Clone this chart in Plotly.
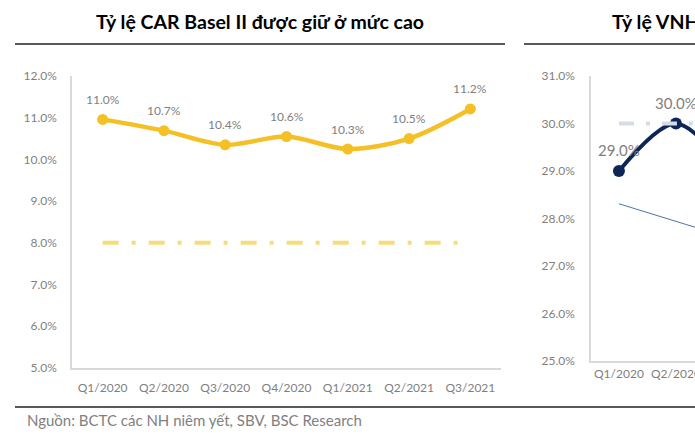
import plotly.graph_objects as go

# ---- data ----
quarters = ["Q1/2020", "Q2/2020", "Q3/2020", "Q4/2020", "Q1/2021", "Q2/2021", "Q3/2021"]
car_values = [10.96, 10.69, 10.35, 10.55, 10.25, 10.50, 11.21]
car_labels = ["11.0%", "10.7%", "10.4%", "10.6%", "10.3%", "10.5%", "11.2%"]
car_limit = [8.0] * 7

vnh_quarters = ["Q1/2020", "Q2/2020", "Q3/2020"]
vnh_values = [29.0, 30.0, 28.9]
vnh_labels = ["29.0%", "30.0%", ""]
vnh_limit = [30.0, 30.0, 30.0]
vnh_thin = [28.31, 27.94, 27.57]

left_ticks = [5, 6, 7, 8, 9, 10, 11, 12]
right_ticks = [25, 26, 27, 28, 29, 30, 31]

W, H = 695, 447
FONT = "Lato"
GRAY = "#7F7F7F"
AX = "#D9D9D9"

def px_x(p):
    return p / W

def px_y(p):
    return 1 - p / H

fig = go.Figure()

lx = list(range(len(quarters)))
rx = list(range(len(vnh_quarters)))

# left chart
fig.add_trace(go.Scatter(x=lx, y=car_values, mode="lines+markers",
                         line=dict(color="#F4C025", width=4.5, shape="spline", smoothing=0.9),
                         marker=dict(size=11, color="#F4C025"),
                         xaxis="x", yaxis="y", showlegend=False, hoverinfo="skip"))
fig.add_trace(go.Scatter(x=lx, y=car_limit, mode="lines",
                         line=dict(color="#F8DC7C", width=4, dash="16px,13px,4px,13px"),
                         xaxis="x", yaxis="y", showlegend=False, hoverinfo="skip"))

# right chart
fig.add_trace(go.Scatter(x=rx, y=vnh_thin, mode="lines",
                         line=dict(color="#4F74AA", width=1),
                         xaxis="x2", yaxis="y2", showlegend=False, hoverinfo="skip"))
fig.add_trace(go.Scatter(x=rx, y=vnh_values, mode="lines+markers",
                         line=dict(color="#0D2557", width=4, shape="spline", smoothing=0.9),
                         marker=dict(size=12, color="#0D2557"),
                         xaxis="x2", yaxis="y2", showlegend=False, hoverinfo="skip"))
fig.add_trace(go.Scatter(x=rx, y=vnh_limit, mode="lines",
                         line=dict(color="#D5DCE8", width=4, dash="15px,12px,4px,12px"),
                         xaxis="x2", yaxis="y2", showlegend=False, hoverinfo="skip"))

annotations = []
for i, (v, t) in enumerate(zip(car_values, car_labels)):
    annotations.append(dict(x=i, y=v, xref="x", yref="y", text=t, showarrow=False,
                            yshift=20, font=dict(family=FONT, size=12, color=GRAY)))
for i, (v, t) in enumerate(zip(vnh_values, vnh_labels)):
    if t:
        annotations.append(dict(x=i, y=v, xref="x2", yref="y2", text=t, showarrow=False,
                                yshift=21, font=dict(family=FONT, size=15, color=GRAY)))

annotations.append(dict(x=px_x(260), y=px_y(22), xref="paper", yref="paper",
                        text="<b>Tỷ lệ CAR Basel II được giữ ở mức cao</b>", showarrow=False,
                        xanchor="center", yanchor="middle",
                        font=dict(family=FONT, size=19.5, color="#000000")))
annotations.append(dict(x=px_x(610), y=px_y(22), xref="paper", yref="paper",
                        text="<b>Tỷ lệ VNH</b>", showarrow=False,
                        xanchor="left", yanchor="middle",
                        font=dict(family=FONT, size=19.5, color="#000000")))
annotations.append(dict(x=px_x(25), y=px_y(420), xref="paper", yref="paper",
                        text="Nguồn: BCTC các NH niêm yết, SBV, BSC Research", showarrow=False,
                        xanchor="left", yanchor="middle",
                        font=dict(family=FONT, size=15, color=GRAY)))

shapes = [
    dict(type="line", xref="paper", yref="paper", x0=px_x(15), x1=px_x(505),
         y0=px_y(44), y1=px_y(44), line=dict(color="#222222", width=1.5)),
    dict(type="line", xref="paper", yref="paper", x0=px_x(524), x1=1,
         y0=px_y(44), y1=px_y(44), line=dict(color="#222222", width=1.5)),
    dict(type="line", xref="paper", yref="paper", x0=px_x(15), x1=1,
         y0=px_y(407), y1=px_y(407), line=dict(color="#222222", width=1.5)),
]

tickfont = dict(family=FONT, size=12, color=GRAY)
common = dict(showgrid=False, zeroline=False, showline=True, linecolor=AX, linewidth=1.5,
              ticks="", tickfont=tickfont, automargin=False, fixedrange=True,
              ticklabeloverflow="allow")

fig.update_layout(
    template="none",
    width=W, height=H, margin=dict(l=0, r=0, t=0, b=0, pad=0, autoexpand=False),
    paper_bgcolor="white", plot_bgcolor="white",
    annotations=annotations, shapes=shapes,
    xaxis=dict(domain=[px_x(72), px_x(501)], range=[-0.5, 6.5],
               tickmode="array", tickvals=lx, ticktext=quarters,
               ticklabelstandoff=8, anchor="y", **common),
    yaxis=dict(domain=[px_y(368), px_y(76)], range=[5, 12],
               tickmode="array", tickvals=left_ticks, ticktext=[f"{v:.1f}%" for v in left_ticks],
               ticklabelstandoff=11, anchor="x", **common),
    xaxis2=dict(domain=[px_x(591), 1], range=[-0.49, -0.49 + 104 / 57],
                tickmode="array", tickvals=rx, ticktext=vnh_quarters,
                ticklabelstandoff=1, anchor="y2", **common),
    yaxis2=dict(domain=[px_y(361), px_y(76)], range=[25, 31],
                tickmode="array", tickvals=right_ticks, ticktext=[f"{v:.1f}%" for v in right_ticks],
                ticklabelstandoff=12, anchor="x2", **common),
)

fig.write_html("out.html", config={"displayModeBar": False},
               post_script="document.body.style.margin='0';document.body.style.overflow='hidden';")
